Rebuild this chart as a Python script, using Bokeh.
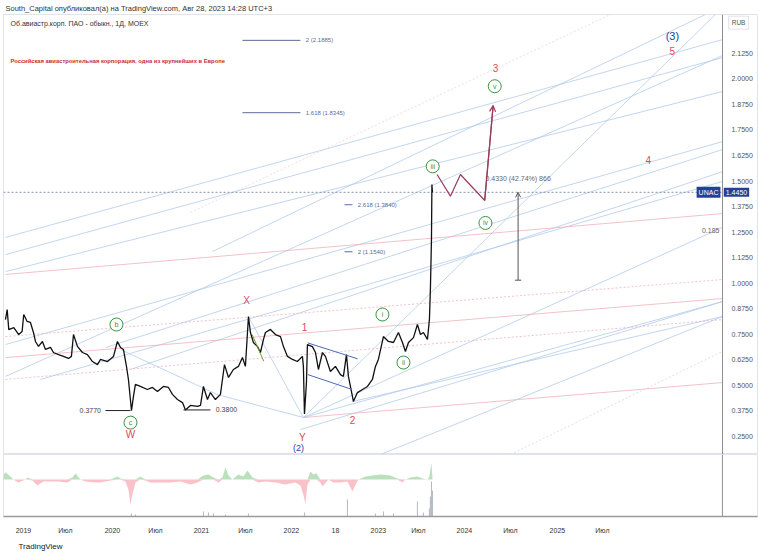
import numpy as np
from bokeh.plotting import figure
from bokeh.models import (Range1d, FixedTicker, PrintfTickFormatter, CustomJSTickFormatter,
                          LinearAxis, Span, Label, Title, Arrow, OpenHead)
from bokeh.layouts import column
from bokeh.embed import file_html
from bokeh.resources import INLINE
from bokeh.core.properties import value

FONT = "Liberation Sans"

# ---------------- data (time in decimal years, price in RUB) ----------------
price_t = [2018.799, 2018.818, 2018.836, 2018.892, 2018.947, 2018.985, 2019.003, 2019.041, 2019.078, 2019.112,
           2019.134, 2019.168, 2019.212, 2019.246, 2019.302, 2019.335, 2019.391, 2019.447, 2019.503, 2019.536,
           2019.559, 2019.603, 2019.659, 2019.715, 2019.771, 2019.827, 2019.860, 2019.939, 2020.006, 2020.050,
           2020.084, 2020.117, 2020.151, 2020.173, 2020.207, 2020.229, 2020.251, 2020.307, 2020.385, 2020.441,
           2020.497, 2020.564, 2020.620, 2020.665, 2020.721, 2020.777, 2020.810, 2020.866, 2020.944, 2020.978,
           2021.011, 2021.056, 2021.089, 2021.145, 2021.201, 2021.246, 2021.291, 2021.346, 2021.402, 2021.447,
           2021.480, 2021.514, 2021.536, 2021.570, 2021.615, 2021.648, 2021.682, 2021.704, 2021.760, 2021.816,
           2021.872, 2021.905, 2021.950, 2022.006, 2022.061, 2022.117, 2022.128, 2022.140, 2022.162, 2022.173,
           2022.229, 2022.263, 2022.296, 2022.341, 2022.374, 2022.430, 2022.486, 2022.542, 2022.575, 2022.609,
           2022.631, 2022.676, 2022.687, 2022.732, 2022.788, 2022.844, 2022.899, 2022.933, 2022.966, 2023.022,
           2023.078, 2023.134, 2023.190, 2023.235, 2023.268, 2023.302, 2023.358, 2023.402, 2023.436, 2023.469,
           2023.514, 2023.536, 2023.547, 2023.559, 2023.564, 2023.570]
price_v = [0.822, 0.871, 0.773, 0.783, 0.749, 0.764, 0.847, 0.813, 0.808, 0.759,
           0.715, 0.691, 0.715, 0.676, 0.686, 0.661, 0.651, 0.642, 0.632, 0.642,
           0.749, 0.691, 0.661, 0.651, 0.617, 0.602, 0.627, 0.617, 0.642, 0.715,
           0.686, 0.676, 0.593, 0.529, 0.377, 0.446, 0.505, 0.495, 0.480, 0.490,
           0.470, 0.495, 0.490, 0.456, 0.431, 0.416, 0.380, 0.402, 0.397, 0.402,
           0.495, 0.431, 0.465, 0.431, 0.456, 0.602, 0.539, 0.578, 0.593, 0.637,
           0.593, 0.837, 0.759, 0.710, 0.690, 0.661, 0.725, 0.759, 0.774, 0.749,
           0.739, 0.690, 0.642, 0.627, 0.617, 0.642, 0.593, 0.360, 0.514, 0.700,
           0.690, 0.661, 0.578, 0.661, 0.642, 0.568, 0.593, 0.553, 0.544, 0.651,
           0.544, 0.446, 0.421, 0.465, 0.480, 0.495, 0.529, 0.593, 0.627, 0.739,
           0.715, 0.710, 0.759, 0.710, 0.666, 0.710, 0.734, 0.798, 0.749, 0.759,
           0.725, 0.822, 0.969, 1.214, 1.483, 1.445]
last_price = 1.445

osc_t = [2018.777, 2018.799, 2018.855, 2018.888, 2018.944, 2019.022, 2019.045, 2019.101, 2019.156, 2019.223,
         2019.302, 2019.391, 2019.492, 2019.547, 2019.581, 2019.637, 2019.693, 2019.804, 2019.860, 2019.972,
         2020.050, 2020.084, 2020.140, 2020.173, 2020.196, 2020.218, 2020.251, 2020.307, 2020.363, 2020.419,
         2020.531, 2020.642, 2020.754, 2020.866, 2020.944, 2021.011, 2021.067, 2021.123, 2021.179, 2021.223,
         2021.257, 2021.291, 2021.335, 2021.402, 2021.458, 2021.503, 2021.559, 2021.626, 2021.704, 2021.816,
         2021.927, 2022.039, 2022.095, 2022.128, 2022.151, 2022.173, 2022.207, 2022.240, 2022.274, 2022.318,
         2022.341, 2022.408, 2022.464, 2022.542, 2022.620, 2022.654, 2022.676, 2022.721, 2022.743, 2022.821,
         2022.899, 2022.989, 2023.101, 2023.179, 2023.235, 2023.268, 2023.324, 2023.402, 2023.458, 2023.514,
         2023.536, 2023.547, 2023.559, 2023.570]
osc_v = [5, 7, 3, 0, -3, 0, 2, -1, -6, -2,
         -2, -2, -3, 2, 6, 0, -2, -3, -3, -1,
         3, 1, -2, -10, -25, -15, -3, 3, -1, -3,
         -3, -3, -2, -5, -3, 4, 5, 2, -3, 2,
         12, 4, 0, 5, 3, 9, 2, -3, -2, -3,
         -5, -3, -6, -15, -25, -5, 8, 5, 6, -3,
         -7, 0, -3, -3, -2, -8, -12, -3, 0, 3,
         4, 5, 4, 1, -3, 0, 2, 3, 1, 0,
         3, 10, 16, 2]

vol_t = [2020.207, 2020.251, 2021.011, 2021.067, 2021.123, 2021.257, 2021.514, 2022.140, 2022.620,
         2022.933, 2023.022, 2023.134, 2023.402, 2023.469, 2023.536, 2023.547, 2023.559, 2023.570]
vol_v = [3, 2, 5, 4, 3, 2, 3, 4, 17, 3, 5, 3, 15, 4, 8, 20, 35, 26]

x_tick_pos = [2019.000, 2019.469, 2019.994, 2020.475, 2020.989, 2021.480, 2021.994, 2022.486,
              2022.966, 2023.413, 2023.927, 2024.441, 2024.966, 2025.469]
x_tick_lab = ["2019", "Июл", "2020", "Июл", "2021", "Июл", "2022", "18",
              "2023", "Июл", "2024", "Июл", "2025", "Июл"]
y_ticks = [0.25, 0.375, 0.5, 0.625, 0.75, 0.875, 1.0, 1.125, 1.25, 1.375, 1.5, 1.625, 1.75, 1.875, 2.0, 2.125]

# drawn trend / fan lines
blue_t0 = [2018.799, 2018.799, 2019.916, 2020.196, 2019.190, 2018.799, 2018.799, 2018.799, 2022.128,
           2022.128, 2022.676, 2022.095, 2022.989, 2022.128, 2021.112, 2021.514, 2020.084, 2021.168]
blue_p0 = [0.544, 0.700, 0.685, 0.578, 0.529, 1.224, 1.140, 1.057, 0.343,
           0.343, 0.421, 0.284, 0.162, 0.343, 1.155, 0.837, 0.676, 0.455]
blue_t1 = [2026.810, 2026.810, 2026.810, 2026.810, 2026.810, 2026.810, 2026.810, 2026.810, 2026.810,
           2026.810, 2026.810, 2026.810, 2026.810, 2026.732, 2026.620, 2022.128, 2021.168, 2022.128]
blue_p1 = [2.114, 1.693, 1.654, 1.546, 1.498, 2.192, 2.104, 1.938, 0.910,
           1.273, 0.837, 0.910, 0.837, 2.315, 2.315, 0.343, 0.455, 0.343]

red_t0 = [2018.799, 2018.799, 2022.128]
red_p0 = [0.636, 1.043, 0.343]
red_t1 = [2026.810, 2026.810, 2026.810]
red_p1 = [0.925, 1.341, 0.514]

reddot_t0 = [2018.799, 2018.799]
reddot_p0 = [0.739, 0.529]
reddot_t1 = [2026.810, 2026.810]
reddot_p1 = [1.018, 0.822]

faint_t0 = [2020.866]
faint_p0 = [1.346]
faint_t1 = [2025.559]
faint_p1 = [2.315]

bluedot_t0 = [2024.441]
bluedot_p0 = [0.162]
bluedot_t1 = [2026.810]
bluedot_p1 = [0.666]

channel_t0 = [2022.177, 2022.177]
channel_p0 = [0.708, 0.553]
channel_t1 = [2022.735, 2022.673]
channel_p1 = [0.630, 0.480]
flag_t = [2021.555, 2021.685]
flag_p = [0.749, 0.618]

# Fibonacci extension marks
fib_lab = ["2 (2.1885)", "1.618 (1.8345)", "2.618 (1.3840)", "2 (1.1540)"]
fib_p = [2.1885, 1.8345, 1.3840, 1.1540]
fib_t0 = [2021.447, 2021.447, 2022.587, 2022.587]
fib_t1 = [2022.095, 2022.095, 2022.676, 2022.676]

# price lows marked
low_lab = ["0.3770", "0.3800"]
low_p = [0.377, 0.380]
low_t0 = [2019.916, 2020.788]
low_t1 = [2020.196, 2021.089]

# Elliott wave labels
circ_txt = ["b", "c", "i", "ii", "iii", "iv", "v"]
circ_t = [2020.039, 2020.196, 2023.011, 2023.246, 2023.573, 2024.162, 2024.266]
circ_p = [0.798, 0.318, 0.847, 0.612, 1.572, 1.295, 1.964]
wave_txt = ["X", "1", "2", "W", "Y", "3", "4", "5"]
wave_t = [2021.492, 2022.140, 2022.676, 2020.196, 2022.117, 2024.274, 2025.983, 2026.251]
wave_p = [0.915, 0.788, 0.333, 0.262, 0.245, 2.054, 1.605, 2.134]
deg_txt = ["(3)", "(2)"]
deg_t = [2026.251, 2022.073]
deg_p = [2.212, 0.193]

# projected path
proj_t = [2023.622, 2023.771, 2023.883, 2024.154, 2024.248]
proj_p = [1.532, 1.426, 1.532, 1.405, 1.869]

# measurement
meas_t = 2024.527
meas_top = 1.445
meas_bottom = 1.015
meas_text = "0.4330 (42.74%) 866"

header = "South_Capital опубликовал(а) на TradingView.com, Авг 28, 2023 14:28 UTC+3"
symbol_text = "Об.авиастр.корп. ПАО - обыкн., 1Д, MOEX"
note_text = "Российская авиастроительная корпорация, одна из крупнейших в Европе"

X_START, X_END = 2018.777, 2027.202   # whole chart panel
AXIS_T = 2026.810                      # where the price scale sits
P_LOW, P_HIGH = 0.162, 2.315

BLUE = "#b3cbec"
RED = "#efb3bb"
WAVE_RED = "#dc4a64"
NAVY = "#26409a"
GREEN = "#3e9142"
FIB = "#5b6c98"
AXIS_GREY = "#8f8f8f"

FRAME_W = 754

# ---------------- main price pane ----------------
p = figure(frame_width=FRAME_W, frame_height=440, x_range=Range1d(X_START, X_END),
           y_range=Range1d(P_LOW, P_HIGH), output_backend="svg", toolbar_location=None,
           x_axis_location=None, y_axis_location=None,
           min_border_left=3, min_border_right=1, min_border_top=0, min_border_bottom=0)
p.title.text = header
p.title.text_font = FONT
p.title.text_font_size = "7.5px"
p.title.text_font_style = "normal"
p.title.text_color = "#333333"
p.title.standoff = 3
p.title.offset = 2
p.outline_line_color = "#e0e3eb"
p.xgrid.visible = False
p.ygrid.visible = False

ax = LinearAxis(fixed_location=AXIS_T)
ax.ticker = FixedTicker(ticks=y_ticks)
ax.formatter = PrintfTickFormatter(format="%.4f")
ax.axis_line_color = AXIS_GREY
ax.major_tick_line_color = None
ax.minor_tick_line_color = None
ax.major_label_text_font = FONT
ax.major_label_text_font_size = "7px"
ax.major_label_text_color = "#555555"
ax.major_label_standoff = 3
p.add_layout(ax, "right")

# fan / trend lines
p.segment(blue_t0, blue_p0, blue_t1, blue_p1, line_color=BLUE, line_width=0.8)
p.segment(red_t0, red_p0, red_t1, red_p1, line_color=RED, line_width=0.8)
p.segment(reddot_t0, reddot_p0, reddot_t1, reddot_p1, line_color=RED, line_width=0.8, line_dash="2 2")
p.segment(faint_t0, faint_p0, faint_t1, faint_p1, line_color="#f4d0d5", line_width=0.8, line_dash="2 2")
p.segment(bluedot_t0, bluedot_p0, bluedot_t1, bluedot_p1, line_color="#c9daf0", line_width=0.8, line_dash="2 2")

# last price dotted line
p.segment([X_START], [last_price], [AXIS_T], [last_price], line_color="#8592ad",
          line_dash="2 2", line_width=1)

# price
p.line(price_t, price_v, line_color="#111111", line_width=1.3)

# channels
p.segment(channel_t0, channel_p0, channel_t1, channel_p1, line_color="#4d6cab", line_width=1)
p.line(flag_t, flag_p, line_color="#6f9d3c", line_width=1)

# fib marks
p.segment(fib_t0, fib_p, fib_t1, fib_p, line_color=FIB, line_width=1)
p.text([t + 0.06 for t in fib_t1], fib_p, text=fib_lab, text_align="left", text_baseline="middle",
       text_font=value(FONT), text_font_size="6px", text_color=FIB)

# marked lows
p.segment(low_t0, low_p, low_t1, low_p, line_color="#222222", line_width=1)
p.text([low_t0[0] - 0.05], [low_p[0]], text=[low_lab[0]], text_align="right", text_baseline="middle",
       text_font=value(FONT), text_font_size="7px", text_color="#444444")
p.text([low_t1[1] + 0.06], [low_p[1]], text=[low_lab[1]], text_align="left", text_baseline="middle",
       text_font=value(FONT), text_font_size="7px", text_color="#444444")

# projected path
p.line(proj_t, proj_p, line_color="#9b3b5a", line_width=1.2)
p.add_layout(Arrow(end=OpenHead(size=6, line_color="#9b3b5a", line_width=1.2),
                   x_start=proj_t[-2], y_start=proj_p[-2], x_end=proj_t[-1], y_end=proj_p[-1],
                   line_color="#9b3b5a", line_width=1.2))

# measurement
p.add_layout(Arrow(end=OpenHead(size=5, line_color="#555555", line_width=1),
                   x_start=meas_t, y_start=meas_bottom, x_end=meas_t, y_end=meas_top,
                   line_color="#555555", line_width=1))
p.segment([meas_t - 0.035], [meas_bottom], [meas_t + 0.035], [meas_bottom], line_color="#555555", line_width=1)
p.text([meas_t], [meas_top + 0.066], text=[meas_text], text_align="center", text_baseline="middle",
       text_font=value(FONT), text_font_size="7px", text_color="#666666")

# wave labels
p.scatter(circ_t, circ_p, marker="circle", size=13, fill_color="white", line_color=GREEN, line_width=1)
p.text(circ_t, circ_p, text=circ_txt, text_align="center", text_baseline="middle",
       text_font=value(FONT), text_font_size="7px", text_color=GREEN)
p.text(wave_t, wave_p, text=wave_txt, text_align="center", text_baseline="middle",
       text_font=value(FONT), text_font_size="10px", text_color=WAVE_RED)
p.text(deg_t, deg_p, text=deg_txt, text_align="center", text_baseline="middle",
       text_font=value(FONT), text_font_size=["11px", "9px"], text_color=NAVY)

# texts in the pane
p.text([2018.855], [2.271], text=[symbol_text], text_align="left", text_baseline="middle",
       text_font=value(FONT), text_font_size="7px", text_color="#333333")
p.text([2018.855], [2.089], text=[note_text], text_align="left", text_baseline="middle",
       text_font=value(FONT), text_font_size="5.8px", text_font_style="bold", text_color="#c62f2f")
p.text([2026.777], [1.258], text=["0.185"], text_align="right", text_baseline="middle",
       text_font=value(FONT), text_font_size="7px", text_color="#666666")

# price labels on the scale
p.add_layout(Label(x=2026.788, y=last_price, text="UNAC", text_align="right", text_baseline="middle",
                   text_font=FONT, text_font_size="7px", text_color="white",
                   background_fill_color=NAVY, padding=2))
p.add_layout(Label(x=AXIS_T + 0.015, y=last_price, text="%.4f" % last_price, text_align="left",
                   text_baseline="middle", text_font=FONT, text_font_size="7px", text_color="white",
                   background_fill_color=NAVY, padding=2))
p.add_layout(Label(x=AXIS_T + 0.07, y=2.275, text="RUB", text_align="left", text_baseline="middle",
                   text_font=FONT, text_font_size="6.5px", text_color="#555555",
                   background_fill_color="white", border_line_color="#e0e3eb", padding=3))

# ---------------- indicator pane ----------------
q = figure(frame_width=FRAME_W, frame_height=62, x_range=p.x_range, y_range=Range1d(-37, 25),
           output_backend="svg", toolbar_location=None, y_axis_location=None,
           min_border_left=3, min_border_right=1, min_border_top=0, min_border_bottom=0)
q.extra_y_ranges = {"vol": Range1d(0, 62)}
q.outline_line_color = "#e0e3eb"
q.xgrid.visible = False
q.ygrid.visible = False
q.add_layout(Span(location=AXIS_T, dimension="height", line_color=AXIS_GREY, line_width=1))

osc = np.array(osc_v, dtype=float)
q.varea(x=osc_t, y1=0, y2=np.maximum(osc, 0), fill_color="#a9d8ab", fill_alpha=0.8)
q.varea(x=osc_t, y1=np.minimum(osc, 0), y2=0, fill_color="#f6b3ba", fill_alpha=0.8)
q.vbar(x=vol_t, top=vol_v, bottom=0, width=0.012, y_range_name="vol", fill_color="#b7bbc8",
       line_color=None)

xa = q.xaxis[0]
xa.ticker = FixedTicker(ticks=x_tick_pos)
xa.formatter = CustomJSTickFormatter(args=dict(pos=x_tick_pos, lab=x_tick_lab), code="""
let k = 0, d = 1e9;
for (let i = 0; i < pos.length; i++) { const e = Math.abs(pos[i] - tick); if (e < d) { d = e; k = i; } }
return lab[k];
""")
xa.axis_line_color = "#9a9a9a"
xa.axis_line_width = 1.5
xa.major_tick_line_color = None
xa.minor_tick_line_color = None
xa.major_label_text_font = FONT
xa.major_label_text_font_size = "7px"
xa.major_label_text_color = "#333333"
xa.major_label_standoff = 4

q.add_layout(Title(text="TradingView", align="left", offset=15, text_font=FONT, text_font_size="8px",
                   text_font_style="normal", text_color="#131722", standoff=7), "below")

layout = column(p, q, spacing=0)
open("out.html", "w").write(file_html(layout, INLINE))
